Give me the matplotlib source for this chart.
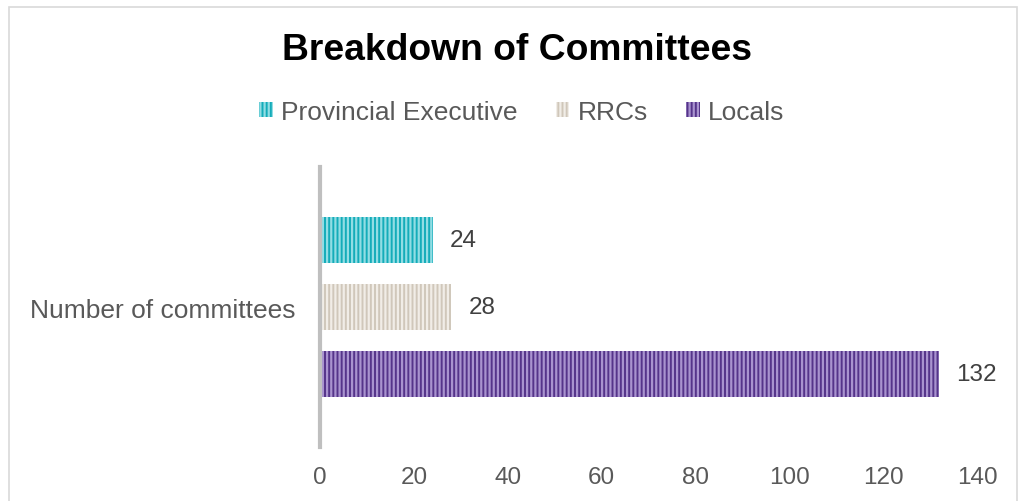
import matplotlib
matplotlib.use("Agg")
import matplotlib.pyplot as plt
from matplotlib.patches import Rectangle

plt.rcParams['font.family'] = ['Liberation Sans', 'DejaVu Sans']

title = "Breakdown of Committees"
category = "Number of committees"
series_names = ["Provincial Executive", "RRCs", "Locals"]
series_values = [24, 28, 132]
base_colors = ["#14acb9", "#d0c7ba", "#55348a"]
stripe_colors = ["#92dde4", "#f1ede7", "#a993cf"]
x_ticks = [0, 20, 40, 60, 80, 100, 120, 140]

fig = plt.figure(figsize=(10.24, 5.02), dpi=100)
fig.patch.set_facecolor("white")

# outer chart frame
fig.add_artist(Rectangle((9 / 1024, -0.05), (1017 - 9) / 1024, 1.05 - 8 / 502,
                         transform=fig.transFigure, fill=False,
                         edgecolor="#d9d9d9", linewidth=1.2))

ax = fig.add_axes([320 / 1024, 1 - 448 / 502, (977 - 320) / 1024, (448 - 168) / 502])

bar_h = 0.164
offsets = [0.239, 0.0, -0.239]
plt.rcParams['hatch.linewidth'] = 1.6
handles = []
for name, val, bc, sc, off in zip(series_names, series_values, base_colors,
                                  stripe_colors, offsets):
    b = ax.barh(off, val, height=bar_h, color=bc, edgecolor=sc,
                hatch="||||", linewidth=0, label=name)
    handles.append(b)
    ax.text(val + 3.6, off, str(val), va="center", ha="left",
            fontsize=17.5, color="#404040")

ax.set_xlim(0, 140)
ax.set_ylim(-0.5, 0.5)
ax.set_xticks(x_ticks)
ax.set_xticklabels([str(t) for t in x_ticks], fontsize=17.5, color="#595959")
ax.tick_params(axis="x", length=0, pad=14)
ax.set_yticks([0])
ax.set_yticklabels([category], fontsize=19, color="#595959")
ax.tick_params(axis="y", length=0, pad=18)

for s in ["top", "right", "bottom"]:
    ax.spines[s].set_visible(False)
ax.spines["left"].set_color("#bfbfbf")
ax.spines["left"].set_linewidth(3)

fig.text(517 / 1024, 1 - 51 / 502, title, ha="center", va="center",
         fontsize=26.8, fontweight="bold", color="black")

leg = fig.legend(handles=handles, labels=series_names, loc="center",
                 bbox_to_anchor=(522 / 1024, 1 - 113 / 502), ncol=3, frameon=False,
                 fontsize=19, handlelength=0.5, handleheight=0.5,
                 handletextpad=0.33, columnspacing=1.45)
for t in leg.get_texts():
    t.set_color("#595959")

fig.savefig("out.png", dpi=100, facecolor="white")
